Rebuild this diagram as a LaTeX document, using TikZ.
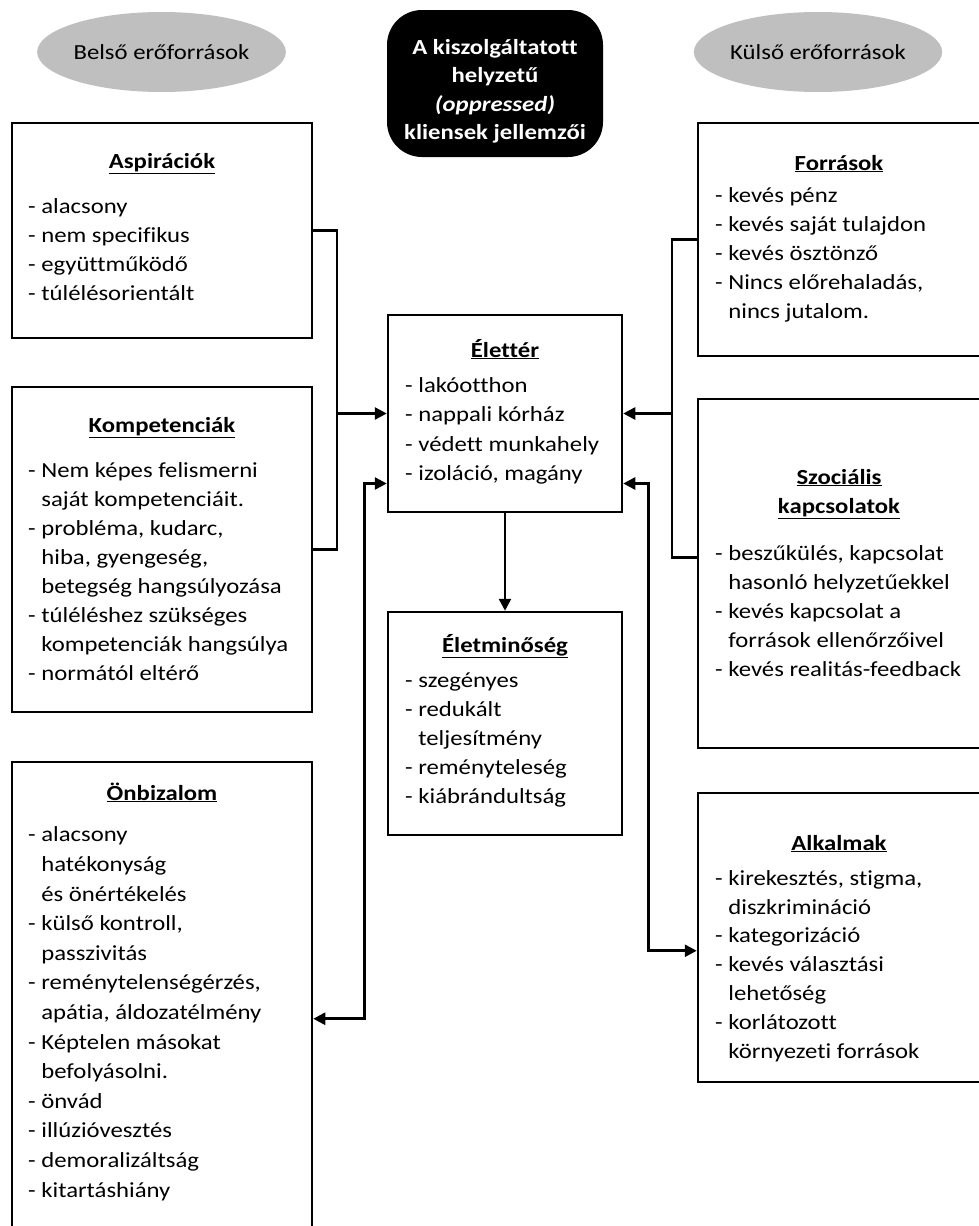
\documentclass[tikz,border=0pt]{standalone}
\usepackage{fontspec}
\setmainfont{Carlito}[FakeStretch=1.15, Ligatures=NoCommon]
\usetikzlibrary{arrows.meta,shapes.geometric,calc}
\definecolor{ellgray}{RGB}{191,191,191}
\newcommand\indnt{\hphantom{- }}
\begin{document}
\begin{tikzpicture}[x=1pt,y=-1pt,
  box/.style={draw, line width=2.5pt, rectangle, inner sep=0pt},
  ttl/.style={font=\fontsize{21.5}{29}\selectfont\bfseries, inner sep=0pt, anchor=base},
  items/.style={font=\fontsize{21.5}{#1}\selectfont, align=left, inner sep=0pt, anchor=base west},
  items/.default=29,
  ell/.style={ellipse, fill=ellgray, minimum width=243pt, minimum height=80pt, inner sep=0pt, font=\fontsize{21.5}{26}\selectfont},
  conn/.style={line width=2.6pt},
  arr/.style={conn, -{Triangle[length=12pt,width=12pt]}},
  darr/.style={conn, {Triangle[length=12pt,width=12pt]}-{Triangle[length=12pt,width=12pt]}}]
\useasboundingbox (0,0) rectangle (979,1226);

% header (base anchors of multi-line nodes sit on the last line)
\node[ell] (lell) at (161.5,52) {Belső erőforrások};
\node[ell] (rell) at (818,52) {Külső erőforrások};
\node[fill=black, rounded corners=35pt, minimum width=216pt, minimum height=147pt, inner sep=0pt] (head) at (495,83.5) {};
\node[font=\fontsize{21.5}{28.5}\selectfont\bfseries, text=white, align=center, inner sep=0pt, anchor=base] (headT) at (495,139.5) {A kiszolgáltatott\\helyzetű\\\textit{(oppressed)}\\kliensek jellemzői};

% boxes
\node[box, minimum width=300pt, minimum height=215pt] (asp) at (162,230.5) {};
\node[box, minimum width=300pt, minimum height=325pt] (komp) at (162,549.5) {};
\node[box, minimum width=300pt, minimum height=478pt] (onb) at (162,1001) {};
\node[box, minimum width=234pt, minimum height=197pt] (elet) at (505,413.5) {};
\node[box, minimum width=234pt, minimum height=223pt] (elm) at (505,723.5) {};
\node[box, minimum width=284pt, minimum height=233pt] (forr) at (840,239.5) {};
\node[box, minimum width=284pt, minimum height=349pt] (szoc) at (840,573.5) {};
\node[box, minimum width=284pt, minimum height=289pt] (alk) at (840,937.5) {};

% texts
\node[ttl] (aspT) at (162,168) {\underline{Aspirációk}};
\node[items] (aspI) at (28,300) {- alacsony\\- nem specifikus\\- együttműködő\\- túlélésorientált};

\node[ttl] (kompT) at (162,432) {\underline{Kompetenciák}};
\node[items] (kompI) at (28,680) {- Nem képes felismerni\\\indnt saját kompetenciáit.\\- probléma, kudarc,\\\indnt hiba, gyengeség,\\\indnt betegség hangsúlyozása\\- túléléshez szükséges\\\indnt kompetenciák hangsúlya\\- normától eltérő};

\node[ttl] (onbT) at (162,800) {\underline{Önbizalom}};
\node[items=29.6] (onbI) at (28,1197) {- alacsony\\\indnt hatékonyság\\\indnt és önértékelés\\- külső kontroll,\\\indnt passzivitás\\- reménytelenségérzés,\\\indnt apátia, áldozatélmény\\- Képtelen másokat\\\indnt befolyásolni.\\- önvád\\- illúzióvesztés\\- demoralizáltság\\- kitartáshiány};

\node[ttl] (eletT) at (505,357) {\underline{Élettér}};
\node[items=29.5] (eletI) at (405,480.5) {- lakóotthon\\- nappali kórház\\- védett munkahely\\- izoláció, magány};

\node[ttl] (elmT) at (505,652) {\underline{Életminőség}};
\node[items=28.8] (elmI) at (405,803) {- szegényes\\- redukált\\\indnt teljesítmény\\- reményteleség\\- kiábrándultság};

\node[ttl] (forrT) at (839,170) {\underline{Források}};
\node[items=28.8] (forrI) at (715,318) {- kevés pénz\\- kevés saját tulajdon\\- kevés ösztönző\\- Nincs előrehaladás,\\\indnt nincs jutalom.};

\node[ttl, align=center] (szocT) at (839,513) {\underline{Szociális}\\\underline{kapcsolatok}};
\node[items] (szocI) at (715,676) {- beszűkülés, kapcsolat\\\indnt hasonló helyzetűekkel\\- kevés kapcsolat a\\\indnt források ellenőrzőivel\\- kevés realitás-feedback};

\node[ttl] (alkT) at (839,850) {\underline{Alkalmak}};
\node[items=28.8] (alkI) at (715,1058) {- kirekesztés, stigma,\\\indnt diszkrimináció\\- kategorizáció\\- kevés választási\\\indnt lehetőség\\- korlátozott\\\indnt környezeti források};

% connectors
\coordinate (lbr) at (337,413.5);
\draw[conn] (asp.east) -| (lbr) |- (komp.east);
\draw[arr] (lbr) -- (elet.west);
\coordinate (eletL2) at ($(elet.west)+(0,70)$);
\coordinate (onbR) at ($(onb.north east)+(0,258)$);
\draw[darr] (onbR) -- ++(51,0) |- (eletL2);

\coordinate (rbr) at (672,413.5);
\coordinate (szocL) at ($(szoc.north west)+(0,160)$);
\draw[conn] (forr.west) -| (rbr) |- (szocL);
\draw[arr] (rbr) -- (elet.east);
\coordinate (eletR2) at ($(elet.east)+(0,70)$);
\coordinate (alkL) at ($(alk.north west)+(0,159)$);
\draw[darr] (eletR2) -- ++(25,0) |- (alkL);

\draw[arr] (elet.south) -- (elm.north);
\end{tikzpicture}
\end{document}
